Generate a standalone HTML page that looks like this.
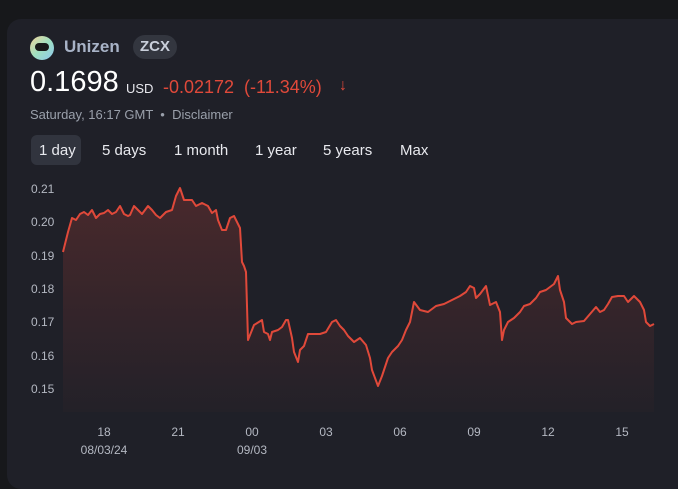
<!DOCTYPE html>
<html><head><style>
body{margin:0;width:678px;height:474px;background:#17181b;overflow:hidden;font-family:"Liberation Sans",sans-serif;}
.card{position:absolute;left:7px;top:19px;width:690px;height:470px;background:#1f2028;border-radius:14px;}
.t{position:absolute;white-space:nowrap;}
</style></head><body>
<div class="card"></div>
<div class="t" style="left:30px;top:36px;width:24px;height:24px;border-radius:50%;background:linear-gradient(135deg,#f3d39a,#9fe0c0,#8fc8f0);"></div>
<div class="t" style="left:35px;top:43px;width:14px;height:8px;border-radius:5px;background:#1a1a1a;"></div>
<div class="t" style="left:64px;top:37px;font-size:17px;font-weight:bold;color:#a8b3c7;">Unizen</div>
<div class="t" style="left:133px;top:35px;width:44px;height:24px;border-radius:12px;background:#33363f;color:#c9cfdb;font-size:15px;font-weight:bold;text-align:center;line-height:24px;">ZCX</div>
<div class="t" style="left:30px;top:66px;font-size:29px;color:#fff;">0.1698</div>
<div class="t" style="left:126px;top:81px;font-size:13px;color:#e8e8ee;">USD</div>
<div class="t" style="left:163px;top:77px;font-size:18px;color:#e0493a;">-0.02172 &nbsp;(-11.34%)</div>
<div class="t" style="left:339px;top:77px;font-size:16px;color:#e0493a;">↓</div>
<div class="t" style="left:30px;top:107px;font-size:13px;color:#9aa0ab;">Saturday, 16:17 GMT &nbsp;•&nbsp; Disclaimer</div>
<div class="t" style="left:31px;top:135px;width:50px;height:30px;border-radius:6px;background:#31343e;"></div>
<div class="t" style="left:39px;top:142px;font-size:15px;color:#e8e9ee;">1 day</div>
<div class="t" style="left:102px;top:142px;font-size:15px;color:#e8e9ee;">5 days</div>
<div class="t" style="left:174px;top:142px;font-size:15px;color:#e8e9ee;">1 month</div>
<div class="t" style="left:255px;top:142px;font-size:15px;color:#e8e9ee;">1 year</div>
<div class="t" style="left:323px;top:142px;font-size:15px;color:#e8e9ee;">5 years</div>
<div class="t" style="left:400px;top:142px;font-size:15px;color:#e8e9ee;">Max</div>
<svg class="t" style="left:0;top:0" width="678" height="474">
<defs><linearGradient id="g" x1="0" y1="0" x2="0" y2="1"><stop offset="0" stop-color="#e0493a" stop-opacity="0.22"/><stop offset="1" stop-color="#e0493a" stop-opacity="0.02"/></linearGradient></defs>
<g font-size="12" fill="#b4b8c2" font-family="Liberation Sans,sans-serif">
<text x="31" y="193">0.21</text><text x="31" y="226">0.20</text><text x="31" y="260">0.19</text><text x="31" y="293">0.18</text><text x="31" y="326">0.17</text><text x="31" y="360">0.16</text><text x="31" y="393">0.15</text>
<g text-anchor="middle"><text x="104" y="436">18</text><text x="178" y="436">21</text><text x="252" y="436">00</text><text x="326" y="436">03</text><text x="400" y="436">06</text><text x="474" y="436">09</text><text x="548" y="436">12</text><text x="622" y="436">15</text>
<text x="104" y="454">08/03/24</text><text x="252" y="454">09/03</text></g></g>
<path id="p" d="M63,252 L68,232 72,218 76,220 80,214 84,212 88,215 92,210 96,218 100,214 104,213 108,210 112,214 116,212 120,206 124,214 128,216 130,215 134,206 138,210 142,214 148,206 152,210 156,215 160,218 166,212 172,210 176,196 180,188 184,200 188,200 192,200 196,206 202,203 208,206 212,213 216,210 218,220 222,230 226,230 230,218 234,216 236,220 240,228 242,262 244,266 246,272 248,340 250,335 254,325 262,320 264,332 268,334 270,340 272,332 278,330 282,327 286,320 288,320 292,338 294,352 298,362 300,350 304,346 308,334 320,334 326,332 332,322 336,320 340,326 344,330 348,336 354,342 360,338 366,345 370,358 372,370 378,386 382,376 388,358 392,352 398,346 402,340 406,330 410,322 414,302 420,310 428,312 436,306 444,304 452,300 460,296 466,292 470,286 474,288 476,298 480,294 486,286 490,305 496,302 500,312 502,340 504,330 508,322 514,318 520,312 524,306 530,304 536,298 540,292 546,290 554,284 558,276 560,290 564,302 566,318 572,324 576,322 584,321 590,314 596,307 600,312 604,310 608,304 612,297 618,296 624,296 628,302 634,296 636,298 640,302 644,310 646,322 650,326 654,324" fill="none" stroke="#e0493a" stroke-width="2" stroke-linejoin="round"/>
<path d="M63,252 L68,232 72,218 76,220 80,214 84,212 88,215 92,210 96,218 100,214 104,213 108,210 112,214 116,212 120,206 124,214 128,216 130,215 134,206 138,210 142,214 148,206 152,210 156,215 160,218 166,212 172,210 176,196 180,188 184,200 188,200 192,200 196,206 202,203 208,206 212,213 216,210 218,220 222,230 226,230 230,218 234,216 236,220 240,228 242,262 244,266 246,272 248,340 250,335 254,325 262,320 264,332 268,334 270,340 272,332 278,330 282,327 286,320 288,320 292,338 294,352 298,362 300,350 304,346 308,334 320,334 326,332 332,322 336,320 340,326 344,330 348,336 354,342 360,338 366,345 370,358 372,370 378,386 382,376 388,358 392,352 398,346 402,340 406,330 410,322 414,302 420,310 428,312 436,306 444,304 452,300 460,296 466,292 470,286 474,288 476,298 480,294 486,286 490,305 496,302 500,312 502,340 504,330 508,322 514,318 520,312 524,306 530,304 536,298 540,292 546,290 554,284 558,276 560,290 564,302 566,318 572,324 576,322 584,321 590,314 596,307 600,312 604,310 608,304 612,297 618,296 624,296 628,302 634,296 636,298 640,302 644,310 646,322 650,326 654,324 L654,412 L63,412 Z" fill="url(#g)"/>
</svg>
</body></html>
